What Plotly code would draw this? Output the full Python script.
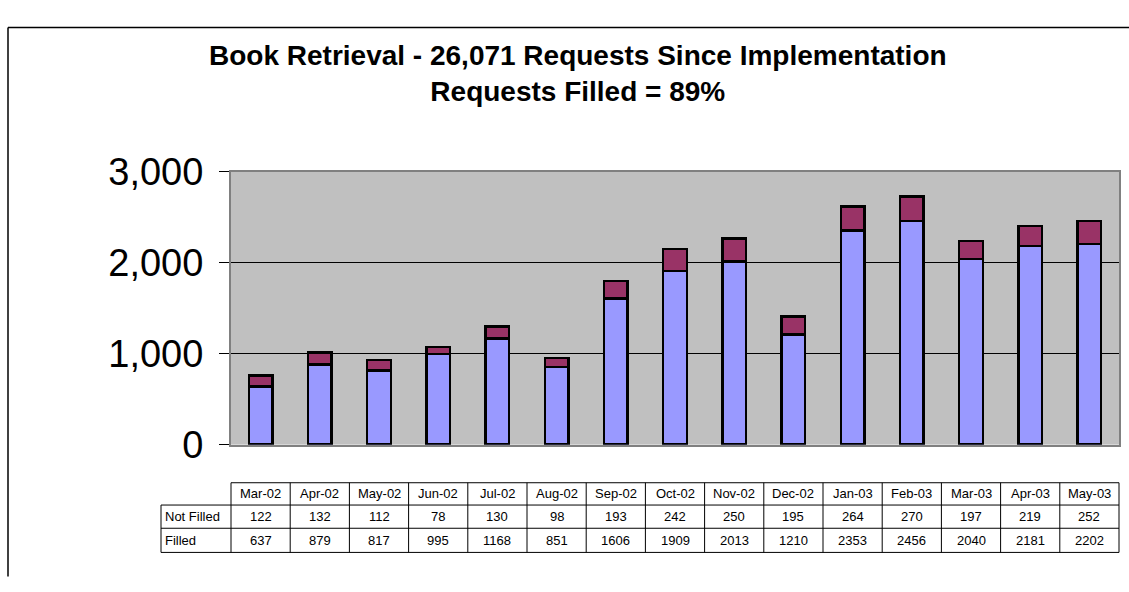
import plotly.graph_objects as go

months = ["Mar-02", "Apr-02", "May-02", "Jun-02", "Jul-02", "Aug-02", "Sep-02", "Oct-02",
          "Nov-02", "Dec-02", "Jan-03", "Feb-03", "Mar-03", "Apr-03", "May-03"]
not_filled = [122, 132, 112, 78, 130, 98, 193, 242, 250, 195, 264, 270, 197, 219, 252]
filled = [637, 879, 817, 995, 1168, 851, 1606, 1909, 2013, 1210, 2353, 2456, 2040, 2181, 2202]
y_ticks = [0, 1000, 2000, 3000]
title_lines = ["Book Retrieval - 26,071 Requests Since Implementation", "Requests Filled = 89%"]

W, H = 1129, 592
px = lambda v: v / W
py = lambda v: 1 - v / H

x0, x1 = px(231), px(1119)
y0, y1 = py(456), py(162)

fig = go.Figure()
fig.add_trace(go.Bar(x=list(range(len(months))), y=filled, name="Filled", width=0.4,
                     marker=dict(color="#9999FF", line=dict(color="black", width=2.5))))
fig.add_trace(go.Bar(x=list(range(len(months))), y=not_filled, name="Not Filled", width=0.4,
                     marker=dict(color="#993366", line=dict(color="black", width=2.5))))

fig.update_layout(
    autosize=True, barmode="stack", showlegend=False,
    margin=dict(l=0, r=0, t=0, b=0),
    paper_bgcolor="white", plot_bgcolor="#C0C0C0",
    font=dict(family="Arial, Liberation Sans, sans-serif", color="black"),
    xaxis=dict(domain=[x0, x1], range=[-0.5, len(months) - 0.5], showticklabels=False,
               showgrid=False, zeroline=False, showline=True, linecolor="#808080",
               linewidth=2, mirror=True, ticks=""),
    yaxis=dict(domain=[y0, y1], range=[0, 3000], tickvals=y_ticks, tickformat=",",
               showgrid=True, gridcolor="black", gridwidth=1, zeroline=False,
               showline=True, linecolor="#808080", linewidth=2, mirror=True,
               ticks="outside", ticklen=10, tickcolor="black", tickwidth=1,
               ticklabelstandoff=8,
               tickfont=dict(size=38, family="Arial, Liberation Sans, sans-serif")),
)

shapes = []
annotations = []
# outer chart border (left and top edges visible)
shapes.append(dict(type="line", xref="paper", yref="paper", x0=px(8), x1=px(8), y0=-0.01, y1=py(7),
                   line=dict(color="black", width=1.5), layer="below"))
shapes.append(dict(type="line", xref="paper", yref="paper", x0=px(8), x1=1.01, y0=py(7), y1=py(7),
                   line=dict(color="black", width=1.5), layer="below"))

# title
annotations.append(dict(text="<b>" + title_lines[0] + "<br>" + title_lines[1] + "</b>",
                        xref="paper", yref="paper", x=px(578), y=py(57), showarrow=False,
                        xanchor="center", yanchor="middle",
                        font=dict(size=28, family="Arial, Liberation Sans, sans-serif")))

# data table under the chart
n = len(months)
colw = (x1 - x0) / n
label_left = px(161)
row_edges = [py(497), py(521), py(546), py(572)]
lc = dict(color="black", width=1)
shapes.append(dict(type="line", xref="paper", yref="paper", x0=x0, x1=x1, y0=row_edges[0], y1=row_edges[0], line=lc))
for r in row_edges[1:]:
    shapes.append(dict(type="line", xref="paper", yref="paper", x0=label_left, x1=x1, y0=r, y1=r, line=lc))
shapes.append(dict(type="line", xref="paper", yref="paper", x0=label_left, x1=label_left,
                   y0=row_edges[1], y1=row_edges[3], line=lc))
for i in range(n + 1):
    xv = x0 + i * colw
    shapes.append(dict(type="line", xref="paper", yref="paper", x0=xv, x1=xv,
                       y0=row_edges[0], y1=row_edges[3], line=lc))

tf = dict(size=13, family="Arial, Liberation Sans, sans-serif", color="black")
rows = [("", months), ("Not Filled", not_filled), ("Filled", filled)]
for ri, (lab, vals) in enumerate(rows):
    ymid = (row_edges[ri] + row_edges[ri + 1]) / 2
    if lab:
        annotations.append(dict(text=lab, xref="paper", yref="paper", x=label_left + px(2), y=ymid,
                                xanchor="left", yanchor="middle", showarrow=False, font=tf))
    for i, v in enumerate(vals):
        annotations.append(dict(text=str(v), xref="paper", yref="paper", x=x0 + (i + 0.5) * colw, y=ymid,
                                xanchor="center", yanchor="middle", showarrow=False, font=tf))

fig.update_layout(shapes=shapes, annotations=annotations)
fig.write_html(
    "out.html",
    config={"displayModeBar": False, "responsive": True},
    default_width="100vw", default_height="100vh",
    post_script=("document.body.style.margin='0';document.body.style.overflow='hidden';"
                 "var gd=document.getElementById('{plot_id}');Plotly.Plots.resize(gd);"),
)
